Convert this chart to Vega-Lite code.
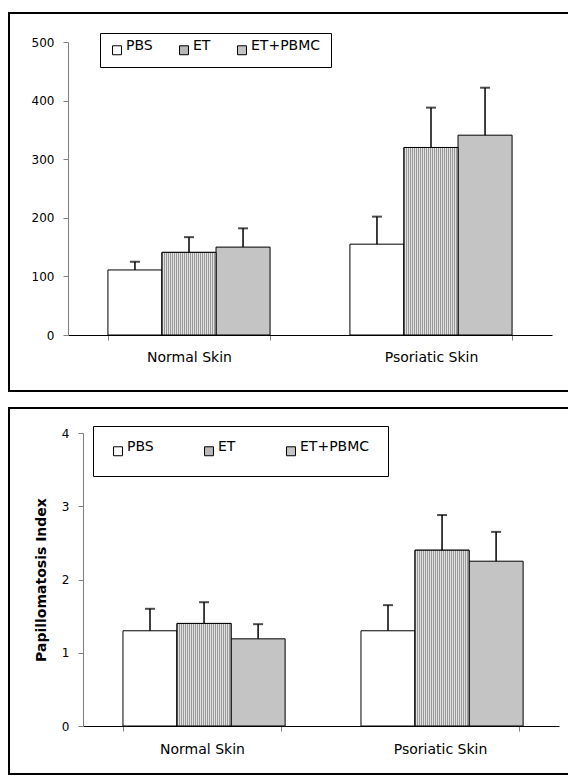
{
  "$schema": "https://vega.github.io/schema/vega-lite/v6.json",
  "padding": {"left": 8, "top": 12, "right": 0, "bottom": 0},
  "background": "white",
  "spacing": 15,
  "config": {
    "view": {"stroke": "#000", "strokeWidth": 2},
    "font": "DejaVu Sans",
    "axis": {"grid": false, "labelColor": "#000", "titleColor": "#000", "domainWidth": 1, "tickWidth": 1, "labelFont": "DejaVu Sans", "titleFont": "DejaVu Sans"}
  },
  "resolve": {"scale": {"fill": "independent"}},
  "vconcat": [
    {
      "width": 600,
      "height": 378,
      "data": {"values": [
        {"skin": "Normal Skin", "treatment": "PBS", "value": 111, "hi": 125},
        {"skin": "Normal Skin", "treatment": "ET", "value": 141, "hi": 167},
        {"skin": "Normal Skin", "treatment": "ET+PBMC", "value": 150, "hi": 182},
        {"skin": "Psoriatic Skin", "treatment": "PBS", "value": 155, "hi": 202},
        {"skin": "Psoriatic Skin", "treatment": "ET", "value": 320, "hi": 388},
        {"skin": "Psoriatic Skin", "treatment": "ET+PBMC", "value": 341, "hi": 422}
      ]},
      "encoding": {
        "x": {"field": "skin", "type": "nominal", "sort": ["Normal Skin", "Psoriatic Skin"],
          "scale": {"range": [59, 543], "paddingInner": 0.33, "paddingOuter": 0.165},
          "axis": {"title": null, "labelAngle": 0, "domainColor": "#000", "tickColor": "#808080", "tickSize": 5, "tickBand": "extent", "labelFontSize": 14, "labelPadding": 10, "offset": -56}},
        "xOffset": {"field": "treatment", "type": "nominal", "sort": ["PBS", "ET", "ET+PBMC"],
          "scale": {"domain": ["PBS", "ET", "ET+PBMC"], "paddingInner": 0, "paddingOuter": 0}},
        "y": {"field": "value", "type": "quantitative",
          "scale": {"domain": [0, 500], "range": [322, 29], "nice": false},
          "axis": {"title": null, "values": [0, 100, 200, 300, 400, 500], "domainColor": "#808080", "tickColor": "#808080", "tickSize": 5, "labelFontSize": 12, "labelPadding": 9, "offset": -59, "minExtent": 0}}
      },
      "layer": [
        {
          "mark": {"type": "bar", "stroke": "#000", "strokeWidth": 1},
          "encoding": {
            "fill": {"field": "treatment", "type": "nominal",
              "scale": {"domain": ["PBS", "ET", "ET+PBMC"], "range": ["#ffffff", "#b8b8b8", "#c4c4c4"]},
              "legend": {"title": null, "orient": "none", "legendX": 91, "legendY": 20, "direction": "horizontal", "strokeColor": "#000", "fillColor": "#fff", "padding": 10, "symbolType": "square", "symbolSize": 80, "symbolStrokeColor": "#000", "symbolStrokeWidth": 1, "labelFontSize": 14, "labelFont": "DejaVu Sans", "labelColor": "#000", "labelBaseline": "alphabetic", "labelOffset": 2, "columnPadding": 24}}
          }
        },
        {
          "transform": [{"filter": "datum.treatment === 'ET'"}],
          "mark": {"type": "bar", "stroke": "#000", "strokeWidth": 1,
            "fill": {"gradient": "linear", "x1": 0, "y1": 0, "x2": 1, "y2": 0, "stops": [
              {"offset": 0, "color": "#999"}, {"offset": 0.0185, "color": "#999"}, {"offset": 0.0185, "color": "#e2e2e2"}, {"offset": 0.0370, "color": "#e2e2e2"},
              {"offset": 0.0370, "color": "#999"}, {"offset": 0.0556, "color": "#999"}, {"offset": 0.0556, "color": "#e2e2e2"}, {"offset": 0.0741, "color": "#e2e2e2"},
              {"offset": 0.0741, "color": "#999"}, {"offset": 0.0926, "color": "#999"}, {"offset": 0.0926, "color": "#e2e2e2"}, {"offset": 0.1111, "color": "#e2e2e2"},
              {"offset": 0.1111, "color": "#999"}, {"offset": 0.1296, "color": "#999"}, {"offset": 0.1296, "color": "#e2e2e2"}, {"offset": 0.1481, "color": "#e2e2e2"},
              {"offset": 0.1481, "color": "#999"}, {"offset": 0.1667, "color": "#999"}, {"offset": 0.1667, "color": "#e2e2e2"}, {"offset": 0.1852, "color": "#e2e2e2"},
              {"offset": 0.1852, "color": "#999"}, {"offset": 0.2037, "color": "#999"}, {"offset": 0.2037, "color": "#e2e2e2"}, {"offset": 0.2222, "color": "#e2e2e2"},
              {"offset": 0.2222, "color": "#999"}, {"offset": 0.2407, "color": "#999"}, {"offset": 0.2407, "color": "#e2e2e2"}, {"offset": 0.2593, "color": "#e2e2e2"},
              {"offset": 0.2593, "color": "#999"}, {"offset": 0.2778, "color": "#999"}, {"offset": 0.2778, "color": "#e2e2e2"}, {"offset": 0.2963, "color": "#e2e2e2"},
              {"offset": 0.2963, "color": "#999"}, {"offset": 0.3148, "color": "#999"}, {"offset": 0.3148, "color": "#e2e2e2"}, {"offset": 0.3333, "color": "#e2e2e2"},
              {"offset": 0.3333, "color": "#999"}, {"offset": 0.3519, "color": "#999"}, {"offset": 0.3519, "color": "#e2e2e2"}, {"offset": 0.3704, "color": "#e2e2e2"},
              {"offset": 0.3704, "color": "#999"}, {"offset": 0.3889, "color": "#999"}, {"offset": 0.3889, "color": "#e2e2e2"}, {"offset": 0.4074, "color": "#e2e2e2"},
              {"offset": 0.4074, "color": "#999"}, {"offset": 0.4259, "color": "#999"}, {"offset": 0.4259, "color": "#e2e2e2"}, {"offset": 0.4444, "color": "#e2e2e2"},
              {"offset": 0.4444, "color": "#999"}, {"offset": 0.4630, "color": "#999"}, {"offset": 0.4630, "color": "#e2e2e2"}, {"offset": 0.4815, "color": "#e2e2e2"},
              {"offset": 0.4815, "color": "#999"}, {"offset": 0.5000, "color": "#999"}, {"offset": 0.5000, "color": "#e2e2e2"}, {"offset": 0.5185, "color": "#e2e2e2"},
              {"offset": 0.5185, "color": "#999"}, {"offset": 0.5370, "color": "#999"}, {"offset": 0.5370, "color": "#e2e2e2"}, {"offset": 0.5556, "color": "#e2e2e2"},
              {"offset": 0.5556, "color": "#999"}, {"offset": 0.5741, "color": "#999"}, {"offset": 0.5741, "color": "#e2e2e2"}, {"offset": 0.5926, "color": "#e2e2e2"},
              {"offset": 0.5926, "color": "#999"}, {"offset": 0.6111, "color": "#999"}, {"offset": 0.6111, "color": "#e2e2e2"}, {"offset": 0.6296, "color": "#e2e2e2"},
              {"offset": 0.6296, "color": "#999"}, {"offset": 0.6481, "color": "#999"}, {"offset": 0.6481, "color": "#e2e2e2"}, {"offset": 0.6667, "color": "#e2e2e2"},
              {"offset": 0.6667, "color": "#999"}, {"offset": 0.6852, "color": "#999"}, {"offset": 0.6852, "color": "#e2e2e2"}, {"offset": 0.7037, "color": "#e2e2e2"},
              {"offset": 0.7037, "color": "#999"}, {"offset": 0.7222, "color": "#999"}, {"offset": 0.7222, "color": "#e2e2e2"}, {"offset": 0.7407, "color": "#e2e2e2"},
              {"offset": 0.7407, "color": "#999"}, {"offset": 0.7593, "color": "#999"}, {"offset": 0.7593, "color": "#e2e2e2"}, {"offset": 0.7778, "color": "#e2e2e2"},
              {"offset": 0.7778, "color": "#999"}, {"offset": 0.7963, "color": "#999"}, {"offset": 0.7963, "color": "#e2e2e2"}, {"offset": 0.8148, "color": "#e2e2e2"},
              {"offset": 0.8148, "color": "#999"}, {"offset": 0.8333, "color": "#999"}, {"offset": 0.8333, "color": "#e2e2e2"}, {"offset": 0.8519, "color": "#e2e2e2"},
              {"offset": 0.8519, "color": "#999"}, {"offset": 0.8704, "color": "#999"}, {"offset": 0.8704, "color": "#e2e2e2"}, {"offset": 0.8889, "color": "#e2e2e2"},
              {"offset": 0.8889, "color": "#999"}, {"offset": 0.9074, "color": "#999"}, {"offset": 0.9074, "color": "#e2e2e2"}, {"offset": 0.9259, "color": "#e2e2e2"},
              {"offset": 0.9259, "color": "#999"}, {"offset": 0.9444, "color": "#999"}, {"offset": 0.9444, "color": "#e2e2e2"}, {"offset": 0.9630, "color": "#e2e2e2"},
              {"offset": 0.9630, "color": "#999"}, {"offset": 0.9815, "color": "#999"}, {"offset": 0.9815, "color": "#e2e2e2"}, {"offset": 1, "color": "#e2e2e2"}
            ]}}
        },
        {
          "mark": {"type": "rule", "stroke": "#000", "strokeWidth": 1.5},
          "encoding": {"y2": {"field": "hi"}}
        },
        {
          "mark": {"type": "tick", "color": "#000", "thickness": 2, "size": 10},
          "encoding": {"y": {"field": "hi", "type": "quantitative"}}
        }
      ]
    },
    {
      "width": 600,
      "height": 366,
      "data": {"values": [
        {"skin": "Normal Skin", "treatment": "PBS", "value": 1.30, "hi": 1.60},
        {"skin": "Normal Skin", "treatment": "ET", "value": 1.40, "hi": 1.69},
        {"skin": "Normal Skin", "treatment": "ET+PBMC", "value": 1.19, "hi": 1.39},
        {"skin": "Psoriatic Skin", "treatment": "PBS", "value": 1.30, "hi": 1.65},
        {"skin": "Psoriatic Skin", "treatment": "ET", "value": 2.40, "hi": 2.88},
        {"skin": "Psoriatic Skin", "treatment": "ET+PBMC", "value": 2.25, "hi": 2.65}
      ]},
      "encoding": {
        "x": {"field": "skin", "type": "nominal", "sort": ["Normal Skin", "Psoriatic Skin"],
          "scale": {"range": [74, 550], "paddingInner": 0.336, "paddingOuter": 0.168},
          "axis": {"title": null, "labelAngle": 0, "domainColor": "#000", "tickColor": "#808080", "tickSize": 5, "tickBand": "extent", "labelFontSize": 14, "labelPadding": 11, "offset": -48}},
        "xOffset": {"field": "treatment", "type": "nominal", "sort": ["PBS", "ET", "ET+PBMC"],
          "scale": {"domain": ["PBS", "ET", "ET+PBMC"], "paddingInner": 0, "paddingOuter": 0}},
        "y": {"field": "value", "type": "quantitative",
          "scale": {"domain": [0, 4], "range": [318, 25], "nice": false},
          "axis": {"title": "Papillomatosis Index", "titleFontWeight": "bold", "titleFontSize": 14, "titlePadding": 13, "values": [0, 1, 2, 3, 4], "format": "d", "domainColor": "#808080", "tickColor": "#808080", "tickSize": 5, "labelFontSize": 12, "labelPadding": 9, "offset": -74, "minExtent": 0}}
      },
      "layer": [
        {
          "mark": {"type": "bar", "stroke": "#000", "strokeWidth": 1},
          "encoding": {
            "fill": {"field": "treatment", "type": "nominal",
              "scale": {"domain": ["PBS", "ET", "ET+PBMC"], "range": ["#ffffff", "#b8b8b8", "#c4c4c4"]},
              "legend": {"title": null, "orient": "none", "legendX": 84, "legendY": 18, "direction": "horizontal", "strokeColor": "#000", "fillColor": "#fff", "padding": 18, "symbolType": "square", "symbolSize": 80, "symbolStrokeColor": "#000", "symbolStrokeWidth": 1, "labelFontSize": 14, "labelFont": "DejaVu Sans", "labelColor": "#000", "labelBaseline": "alphabetic", "labelOffset": 2, "columnPadding": 48}}
          }
        },
        {
          "transform": [{"filter": "datum.treatment === 'ET'"}],
          "mark": {"type": "bar", "stroke": "#000", "strokeWidth": 1,
            "fill": {"gradient": "linear", "x1": 0, "y1": 0, "x2": 1, "y2": 0, "stops": [
              {"offset": 0, "color": "#999"}, {"offset": 0.0185, "color": "#999"}, {"offset": 0.0185, "color": "#e2e2e2"}, {"offset": 0.0370, "color": "#e2e2e2"},
              {"offset": 0.0370, "color": "#999"}, {"offset": 0.0556, "color": "#999"}, {"offset": 0.0556, "color": "#e2e2e2"}, {"offset": 0.0741, "color": "#e2e2e2"},
              {"offset": 0.0741, "color": "#999"}, {"offset": 0.0926, "color": "#999"}, {"offset": 0.0926, "color": "#e2e2e2"}, {"offset": 0.1111, "color": "#e2e2e2"},
              {"offset": 0.1111, "color": "#999"}, {"offset": 0.1296, "color": "#999"}, {"offset": 0.1296, "color": "#e2e2e2"}, {"offset": 0.1481, "color": "#e2e2e2"},
              {"offset": 0.1481, "color": "#999"}, {"offset": 0.1667, "color": "#999"}, {"offset": 0.1667, "color": "#e2e2e2"}, {"offset": 0.1852, "color": "#e2e2e2"},
              {"offset": 0.1852, "color": "#999"}, {"offset": 0.2037, "color": "#999"}, {"offset": 0.2037, "color": "#e2e2e2"}, {"offset": 0.2222, "color": "#e2e2e2"},
              {"offset": 0.2222, "color": "#999"}, {"offset": 0.2407, "color": "#999"}, {"offset": 0.2407, "color": "#e2e2e2"}, {"offset": 0.2593, "color": "#e2e2e2"},
              {"offset": 0.2593, "color": "#999"}, {"offset": 0.2778, "color": "#999"}, {"offset": 0.2778, "color": "#e2e2e2"}, {"offset": 0.2963, "color": "#e2e2e2"},
              {"offset": 0.2963, "color": "#999"}, {"offset": 0.3148, "color": "#999"}, {"offset": 0.3148, "color": "#e2e2e2"}, {"offset": 0.3333, "color": "#e2e2e2"},
              {"offset": 0.3333, "color": "#999"}, {"offset": 0.3519, "color": "#999"}, {"offset": 0.3519, "color": "#e2e2e2"}, {"offset": 0.3704, "color": "#e2e2e2"},
              {"offset": 0.3704, "color": "#999"}, {"offset": 0.3889, "color": "#999"}, {"offset": 0.3889, "color": "#e2e2e2"}, {"offset": 0.4074, "color": "#e2e2e2"},
              {"offset": 0.4074, "color": "#999"}, {"offset": 0.4259, "color": "#999"}, {"offset": 0.4259, "color": "#e2e2e2"}, {"offset": 0.4444, "color": "#e2e2e2"},
              {"offset": 0.4444, "color": "#999"}, {"offset": 0.4630, "color": "#999"}, {"offset": 0.4630, "color": "#e2e2e2"}, {"offset": 0.4815, "color": "#e2e2e2"},
              {"offset": 0.4815, "color": "#999"}, {"offset": 0.5000, "color": "#999"}, {"offset": 0.5000, "color": "#e2e2e2"}, {"offset": 0.5185, "color": "#e2e2e2"},
              {"offset": 0.5185, "color": "#999"}, {"offset": 0.5370, "color": "#999"}, {"offset": 0.5370, "color": "#e2e2e2"}, {"offset": 0.5556, "color": "#e2e2e2"},
              {"offset": 0.5556, "color": "#999"}, {"offset": 0.5741, "color": "#999"}, {"offset": 0.5741, "color": "#e2e2e2"}, {"offset": 0.5926, "color": "#e2e2e2"},
              {"offset": 0.5926, "color": "#999"}, {"offset": 0.6111, "color": "#999"}, {"offset": 0.6111, "color": "#e2e2e2"}, {"offset": 0.6296, "color": "#e2e2e2"},
              {"offset": 0.6296, "color": "#999"}, {"offset": 0.6481, "color": "#999"}, {"offset": 0.6481, "color": "#e2e2e2"}, {"offset": 0.6667, "color": "#e2e2e2"},
              {"offset": 0.6667, "color": "#999"}, {"offset": 0.6852, "color": "#999"}, {"offset": 0.6852, "color": "#e2e2e2"}, {"offset": 0.7037, "color": "#e2e2e2"},
              {"offset": 0.7037, "color": "#999"}, {"offset": 0.7222, "color": "#999"}, {"offset": 0.7222, "color": "#e2e2e2"}, {"offset": 0.7407, "color": "#e2e2e2"},
              {"offset": 0.7407, "color": "#999"}, {"offset": 0.7593, "color": "#999"}, {"offset": 0.7593, "color": "#e2e2e2"}, {"offset": 0.7778, "color": "#e2e2e2"},
              {"offset": 0.7778, "color": "#999"}, {"offset": 0.7963, "color": "#999"}, {"offset": 0.7963, "color": "#e2e2e2"}, {"offset": 0.8148, "color": "#e2e2e2"},
              {"offset": 0.8148, "color": "#999"}, {"offset": 0.8333, "color": "#999"}, {"offset": 0.8333, "color": "#e2e2e2"}, {"offset": 0.8519, "color": "#e2e2e2"},
              {"offset": 0.8519, "color": "#999"}, {"offset": 0.8704, "color": "#999"}, {"offset": 0.8704, "color": "#e2e2e2"}, {"offset": 0.8889, "color": "#e2e2e2"},
              {"offset": 0.8889, "color": "#999"}, {"offset": 0.9074, "color": "#999"}, {"offset": 0.9074, "color": "#e2e2e2"}, {"offset": 0.9259, "color": "#e2e2e2"},
              {"offset": 0.9259, "color": "#999"}, {"offset": 0.9444, "color": "#999"}, {"offset": 0.9444, "color": "#e2e2e2"}, {"offset": 0.9630, "color": "#e2e2e2"},
              {"offset": 0.9630, "color": "#999"}, {"offset": 0.9815, "color": "#999"}, {"offset": 0.9815, "color": "#e2e2e2"}, {"offset": 1, "color": "#e2e2e2"}
            ]}}
        },
        {
          "mark": {"type": "rule", "stroke": "#000", "strokeWidth": 1.5},
          "encoding": {"y2": {"field": "hi"}}
        },
        {
          "mark": {"type": "tick", "color": "#000", "thickness": 2, "size": 10},
          "encoding": {"y": {"field": "hi", "type": "quantitative"}}
        }
      ]
    }
  ]
}
